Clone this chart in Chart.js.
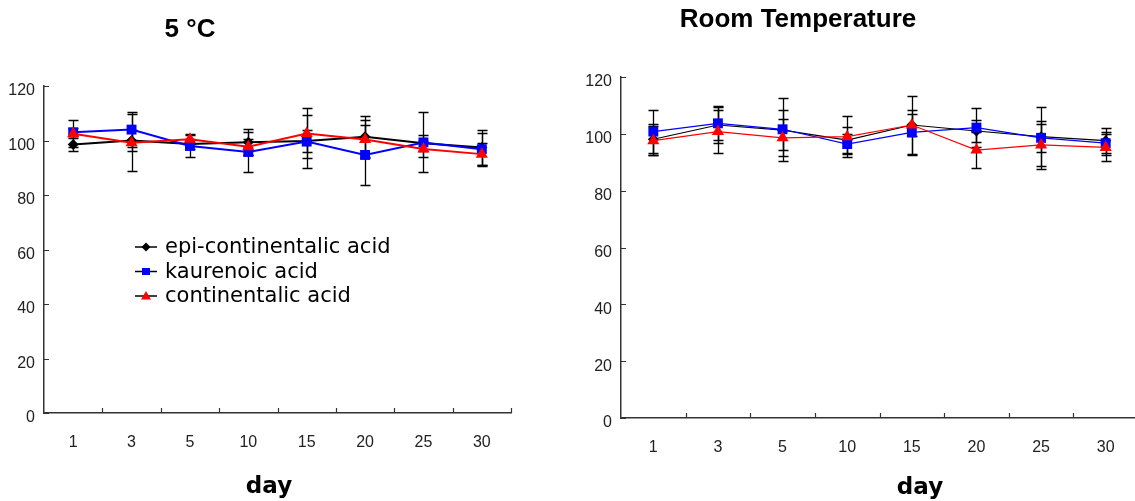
<!DOCTYPE html>
<html>
<head>
<meta charset="utf-8">
<script src="https://cdn.jsdelivr.net/npm/chart.js@4"></script>
<style>
  html, body { margin: 0; padding: 0; background: #fff; overflow: hidden; width: 1135px; height: 501px; position: relative; }
  canvas { position: absolute; top: 0; }
  #cold { left: 0; }
  #room { left: 560px; }
  .title { position: absolute; font-family: "Liberation Sans", Arial, sans-serif; font-weight: bold; font-size: 26px; line-height: 26px; color: #000; white-space: nowrap; transform: translateX(-50%); }
  .xname { position: absolute; font-family: "DejaVu Sans", sans-serif; font-weight: bold; font-size: 23px; line-height: 23px; color: #000; transform: translateX(-50%); }
</style>
</head>
<body>
<canvas id="cold" width="560" height="501"></canvas>
<canvas id="room" width="600" height="501"></canvas>
<div class="title" style="left:190px; top:15px;">5 °C</div>
<div class="title" style="left:798px; top:5px;">Room Temperature</div>
<div class="xname" style="left:269px; top:474px;">day</div>
<div class="xname" style="left:920px; top:475px;">day</div>
<script>
const days = ['1', '3', '5', '10', '15', '20', '25', '30'];
const yTicks = [0, 20, 40, 60, 80, 100, 120];
const seriesNames = ['epi-continentalic acid', 'kaurenoic acid', 'continentalic acid'];

// 5 °C
const coldEpi = [98.5, 100, 98.7, 99.4, 99.8, 101.4, 99, 97.4];
const coldEpiErr = [2.5, 4, 2, 4.8, 4, 7.5, 3, 6.5];
const coldKau = [103, 104, 98, 95.8, 99.6, 94.7, 99.3, 96.8];
const coldKauErr = [1.5, 6.5, 4, 7.5, 9.7, 11, 11, 6];
const coldCon = [102.5, 99.2, 100.5, 97.7, 102.6, 100.4, 96.9, 95];
const coldConErr = [5, 10.5, 1.8, 3, 9.2, 7, 3, 4];

// room temperature
const roomEpi = [98.1, 103.1, 101.3, 97.8, 103.1, 101, 99, 97.6];
const roomEpiErr = [5.5, 6.5, 7, 4.5, 4, 4, 10.3, 4.5];
const roomKau = [100.8, 103.7, 101.6, 96.4, 100.5, 102.2, 98.6, 96.7];
const roomKauErr = [7.6, 6, 11, 3.5, 8, 7, 5, 4];
const roomCon = [97.6, 100.8, 98.6, 99, 103.1, 94.3, 96.1, 95.2];
const roomConErr = [5, 7.5, 6.5, 7.3, 10.3, 6.2, 8.5, 4.7];

const colors = ['#000000', '#0000ff', '#ff0000'];
const styles = ['rectRot', 'rect', 'triangle'];
const radii = [5.5, 7, 7];

// ===== error bars, drawn from the y scale =====
const errorBars = {
  id: 'errorBars',
  beforeDatasetsDraw(chart) {
    const {ctx} = chart;
    const y = chart.scales.y;
    ctx.save();
    ctx.strokeStyle = '#000';
    ctx.lineWidth = 1.3;
    chart.data.datasets.forEach((ds, i) => {
      const meta = chart.getDatasetMeta(i);
      meta.data.forEach((pt, j) => {
        const v = ds.data[j], e = ds.errors[j];
        const top = Math.round(y.getPixelForValue(v + e)) + 0.5;
        const bot = Math.round(y.getPixelForValue(v - e)) + 0.5;
        const x = Math.round(pt.x) + 0.5;
        ctx.beginPath();
        ctx.moveTo(x, top); ctx.lineTo(x, bot);
        ctx.moveTo(x - 5, top); ctx.lineTo(x + 5, top);
        ctx.moveTo(x - 5, bot); ctx.lineTo(x + 5, bot);
        ctx.stroke();
      });
    });
    ctx.restore();
  }
};

// ===== inward tick marks =====
const innerTicks = {
  id: 'innerTicks',
  afterDraw(chart) {
    const {ctx, chartArea, scales: {x, y}} = chart;
    ctx.save();
    ctx.strokeStyle = '#333';
    ctx.lineWidth = 1.2;
    ctx.beginPath();
    yTicks.forEach(v => {
      const py = Math.round(y.getPixelForValue(v)) + 0.5;
      ctx.moveTo(chartArea.left, py);
      ctx.lineTo(chartArea.left + 5, py);
    });
    for (let i = 1; i <= days.length; i++) {
      const px = Math.round(i < days.length
        ? (x.getPixelForValue(i - 1) + x.getPixelForValue(i)) / 2
        : chartArea.right) + 0.5;
      ctx.moveTo(px, chartArea.bottom);
      ctx.lineTo(px, chartArea.bottom - 5);
    }
    ctx.stroke();
    ctx.restore();
  }
};

// ===== legend inside the 5 °C plot =====
const boxLegend = {
  id: 'boxLegend',
  afterDraw(chart, args, opts) {
    if (!opts.show) return;
    const {ctx} = chart;
    ctx.save();
    ctx.font = '21px "DejaVu Sans", sans-serif';
    ctx.textBaseline = 'middle';
    chart.data.datasets.forEach((ds, i) => {
      const y = opts.y + i * opts.gap;
      const x0 = opts.x, xm = opts.x + 11;
      ctx.strokeStyle = '#000';
      ctx.lineWidth = 1.5;
      ctx.beginPath(); ctx.moveTo(x0, y); ctx.lineTo(x0 + 22, y); ctx.stroke();
      ctx.fillStyle = ds.borderColor;
      ctx.beginPath();
      if (ds.pointStyle === 'rectRot') {
        ctx.moveTo(xm, y - 4.5); ctx.lineTo(xm + 4.5, y); ctx.lineTo(xm, y + 4.5); ctx.lineTo(xm - 4.5, y);
      } else if (ds.pointStyle === 'rect') {
        ctx.rect(xm - 4, y - 3.5, 8, 7);
      } else {
        ctx.moveTo(xm, y - 5); ctx.lineTo(xm + 5, y + 3.5); ctx.lineTo(xm - 5, y + 3.5);
      }
      ctx.closePath();
      ctx.fill();
      ctx.fillStyle = '#000';
      ctx.fillText(ds.label, opts.x + 30, y + 1);
    });
    ctx.restore();
  }
};

function makeSets(vals, errs, width) {
  return vals.map((data, i) => ({
    label: seriesNames[i],
    data,
    errors: errs[i],
    borderColor: colors[i],
    backgroundColor: colors[i],
    pointBackgroundColor: colors[i],
    pointBorderWidth: 0,
    pointStyle: styles[i],
    pointRadius: radii[i],
    borderWidth: width,
    tension: 0,
    order: 3 - i
  }));
}

function makeChart(id, datasets, area, showLegend) {
  return new Chart(document.getElementById(id), {
    type: 'line',
    data: { labels: days, datasets },
    plugins: [errorBars, innerTicks, boxLegend],
    options: {
      responsive: false,
      animation: false,
      events: [],
      layout: { autoPadding: false, padding: { top: area.top, right: area.right, left: 0, bottom: 0 } },
      plugins: {
        legend: { display: false },
        tooltip: { enabled: false },
        boxLegend: { show: showLegend, x: 135, y: 247, gap: 24.5 }
      },
      scales: {
        x: {
          offset: true,
          grid: { display: false, drawTicks: false },
          border: { display: true, color: '#333', width: 1.5 },
          ticks: { color: '#222', padding: 20, font: { family: 'Liberation Sans', size: 16 } },
          afterFit: s => { s.height = area.xh; }
        },
        y: {
          min: 0, max: 120,
          grid: { display: false, drawTicks: false },
          border: { display: true, color: '#333', width: 1.5 },
          ticks: { stepSize: 20, color: '#222', padding: 9, labelOffset: 5, font: { family: 'Liberation Sans', size: 16 } },
          afterFit: s => { s.width = area.yw; }
        }
      }
    }
  });
}

makeChart('cold',
  makeSets([coldEpi, coldKau, coldCon], [coldEpiErr, coldKauErr, coldConErr], 2),
  { top: 86, right: 49, xh: 88, yw: 44 }, true);

makeChart('room',
  makeSets([roomEpi, roomKau, roomCon], [roomEpiErr, roomKauErr, roomConErr], 1.2),
  { top: 77, right: 22, xh: 83, yw: 61 }, false);
</script>
</body>
</html>
